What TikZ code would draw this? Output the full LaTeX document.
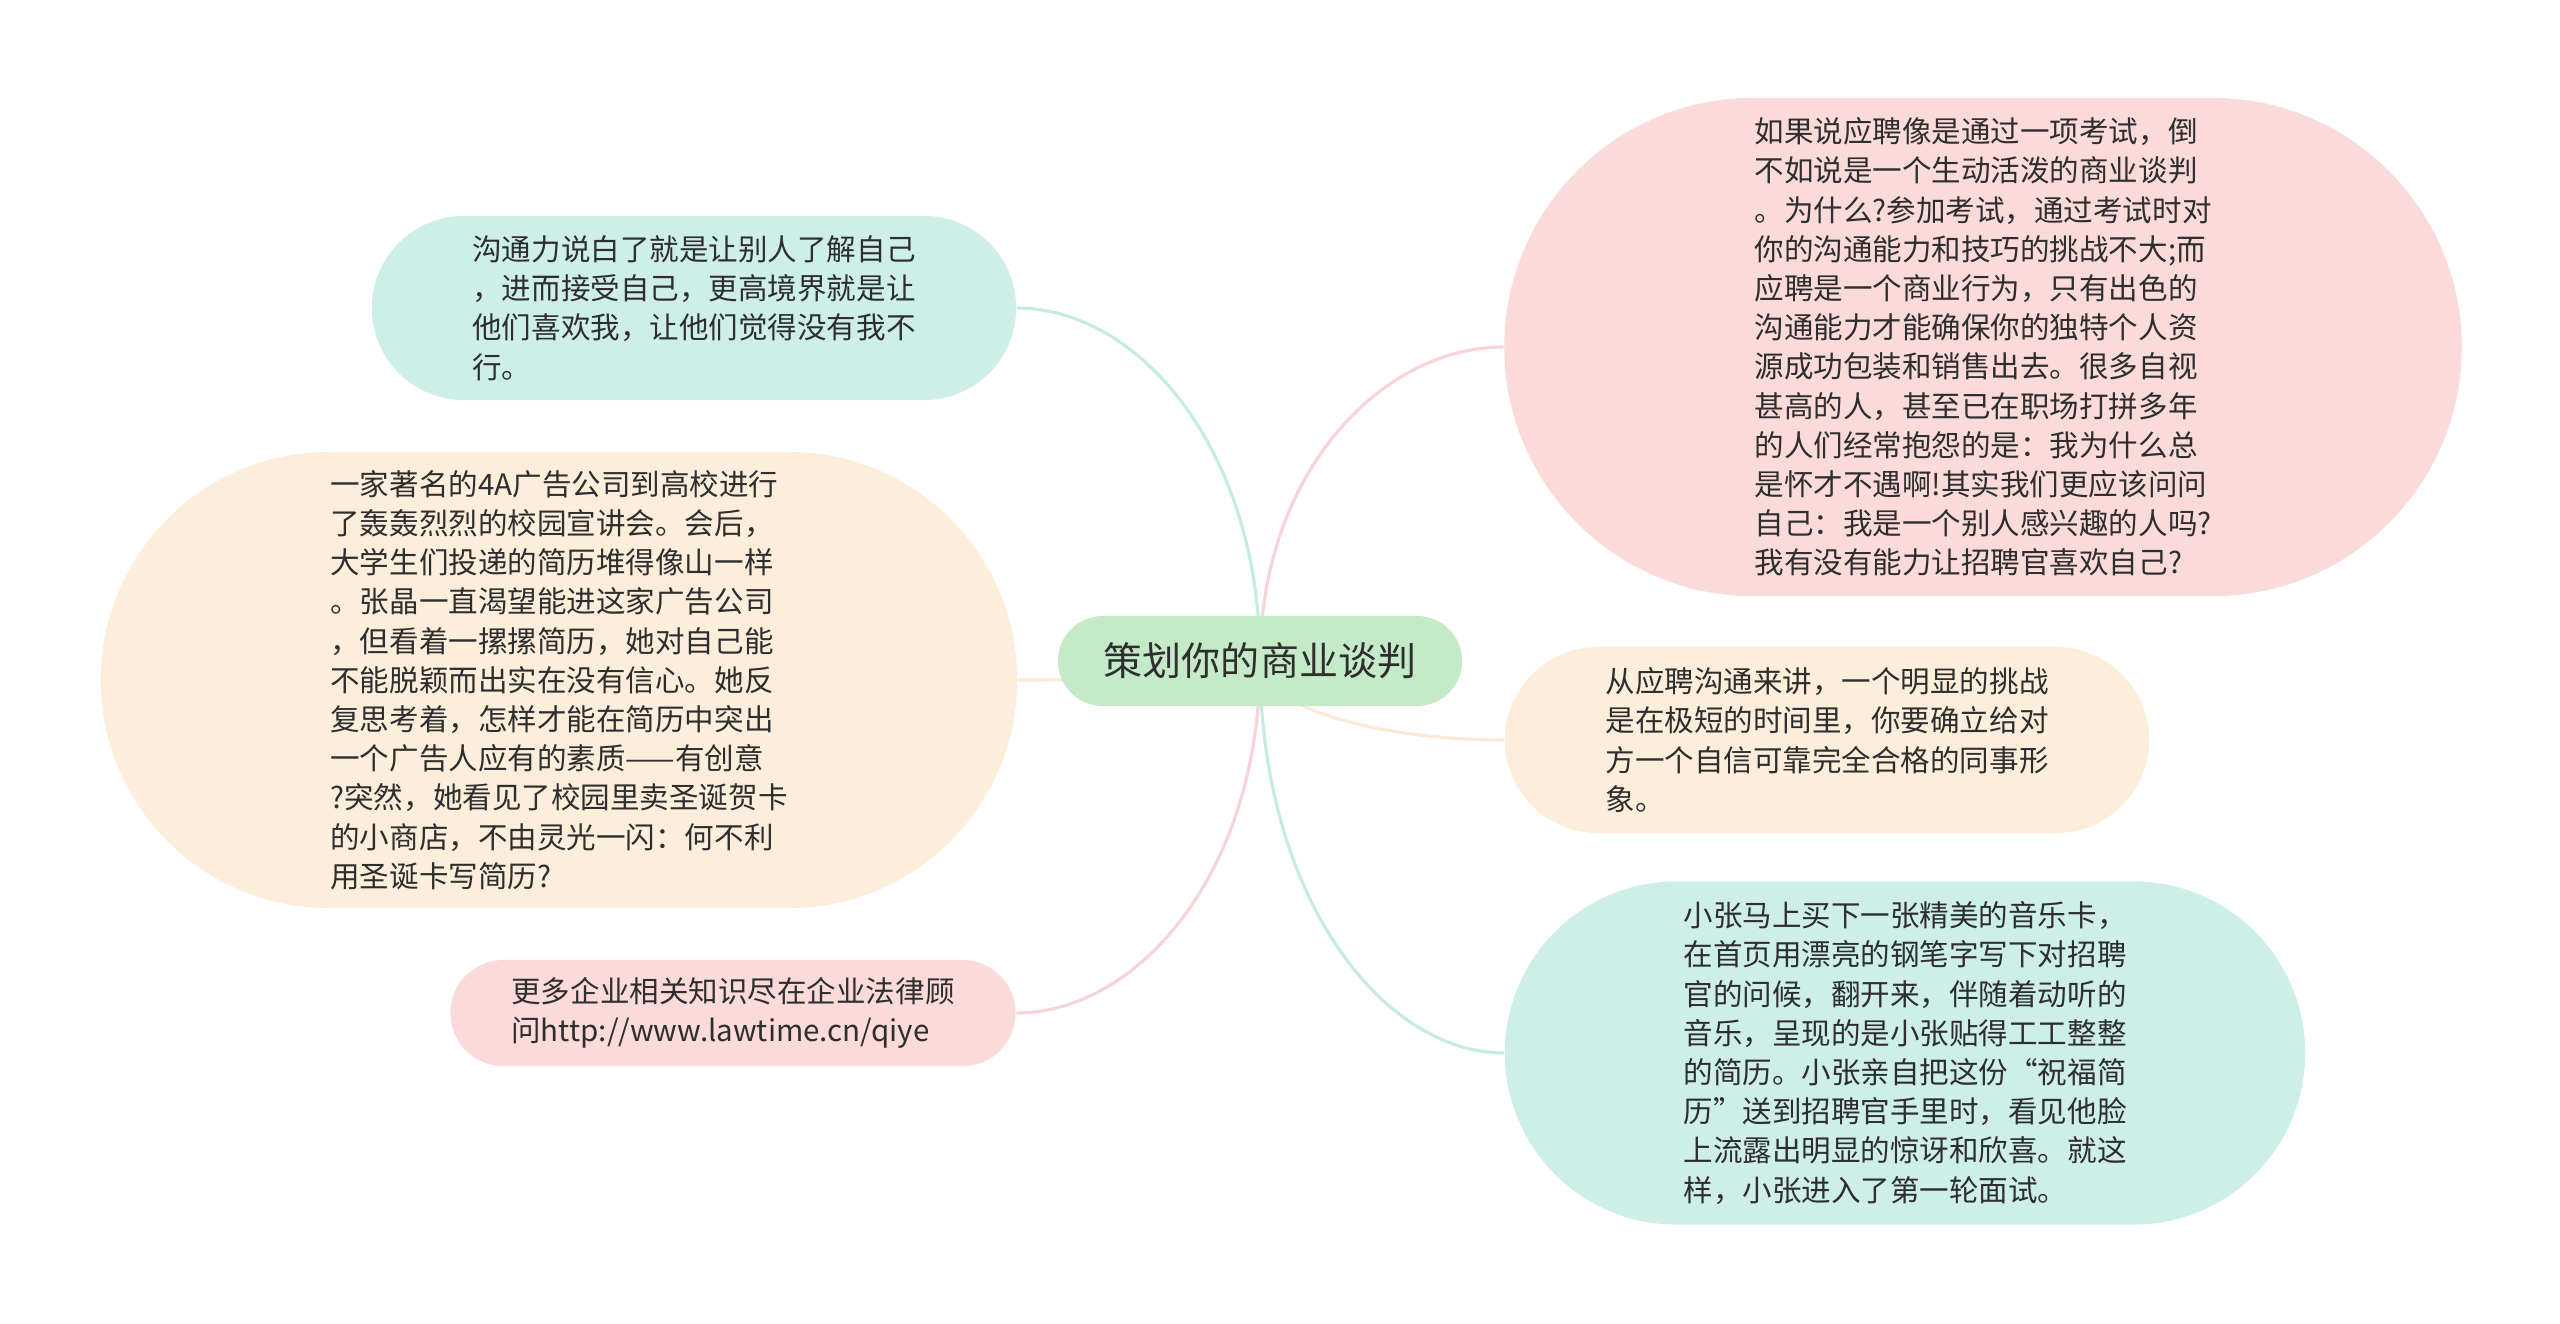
\documentclass[tikz,border=0pt]{standalone}
\usepackage{fontspec}
\setmainfont{Noto Sans CJK SC}
\usetikzlibrary{shapes.misc,calc,backgrounds}

\definecolor{rootgreen}{HTML}{C5EAC8}
\definecolor{tealfill}{HTML}{CDEFE8}
\definecolor{pinkfill}{HTML}{FBDADA}
\definecolor{peachfill}{HTML}{FDEEDC}
\definecolor{tealline}{HTML}{C6EBE4}
\definecolor{pinkline}{HTML}{F7D5D5}
\definecolor{peachline}{HTML}{FCE9D6}
\definecolor{inkgray}{HTML}{2E2E2E}

\begin{document}
\pagecolor{white}
\begin{tikzpicture}[x=0.01cm, y=-0.01cm,
    topic/.style={rounded rectangle, inner sep=0pt, align=left, text=inkgray,
      font=\fontsize{8.4}{11.15}\selectfont},
    link/.style={line width=0.9pt}]
  \useasboundingbox (0,0) rectangle (2560,1323);

  % Define nodes
  \node[rounded rectangle, inner sep=0pt, fill=rootgreen, minimum width=4.04cm, minimum height=0.9cm,
    text=inkgray, font=\fontsize{11.1}{14}\selectfont] (root) at (1260,661) {策划你的商业谈判};

  \node[topic, fill=tealfill, minimum width=6.44cm, minimum height=1.84cm] (talk) at (694,308) {沟通力说白了就是让别人了解自己\\
，进而接受自己，更高境界就是让\\
他们喜欢我，让他们觉得没有我不\\
行。};
  \node[topic, fill=peachfill, minimum width=9.16cm, minimum height=4.56cm] (story) at (559,680) {一家著名的4A广告公司到高校进行\\
了轰轰烈烈的校园宣讲会。会后，\\
大学生们投递的简历堆得像山一样\\
。张晶一直渴望能进这家广告公司\\
，但看着一摞摞简历，她对自己能\\
不能脱颖而出实在没有信心。她反\\
复思考着，怎样才能在简历中突出\\
一个广告人应有的素质——有创意\\
?突然，她看见了校园里卖圣诞贺卡\\
的小商店，不由灵光一闪：何不利\\
用圣诞卡写简历?};
  \node[topic, fill=pinkfill, minimum width=5.65cm, minimum height=1.06cm] (more) at (733,1013) {更多企业相关知识尽在企业法律顾\\
问http://www.lawtime.cn/qiye};

  \node[topic, fill=pinkfill, minimum width=9.57cm, minimum height=4.98cm] (exam) at (1983,347) {如果说应聘像是通过一项考试，倒\\
不如说是一个生动活泼的商业谈判\\
。为什么?参加考试，通过考试时对\\
你的沟通能力和技巧的挑战不大;而\\
应聘是一个商业行为，只有出色的\\
沟通能力才能确保你的独特个人资\\
源成功包装和销售出去。很多自视\\
甚高的人，甚至已在职场打拼多年\\
的人们经常抱怨的是：我为什么总\\
是怀才不遇啊!其实我们更应该问问\\
自己：我是一个别人感兴趣的人吗?\\
我有没有能力让招聘官喜欢自己?};
  \node[topic, fill=peachfill, minimum width=6.44cm, minimum height=1.86cm] (image) at (1827,740) {从应聘沟通来讲，一个明显的挑战\\
是在极短的时间里，你要确立给对\\
方一个自信可靠完全合格的同事形\\
象。};
  \node[topic, fill=tealfill, minimum width=8.0cm, minimum height=3.43cm] (card) at (1905,1053) {小张马上买下一张精美的音乐卡，\\
在首页用漂亮的钢笔字写下对招聘\\
官的问候，翻开来，伴随着动听的\\
音乐，呈现的是小张贴得工工整整\\
的简历。小张亲自把这份“祝福简\\
历”送到招聘官手里时，看见他脸\\
上流露出明显的惊讶和欣喜。就这\\
样，小张进入了第一轮面试。};

  % Draw edges
  \begin{scope}[on background layer]
    \draw[link, tealline] (root.center) .. controls ($(root.center)!0.6!(root.center |- talk.east)$) and ($(root.center |- talk.east)!0.5!(talk.east)$) .. (talk.east);
    \draw[link, peachline] (root.center) .. controls ($(root.center)!0.6!(root.center |- story.east)$) and ($(root.center |- story.east)!0.5!(story.east)$) .. (story.east);
    \draw[link, pinkline] (root.center) .. controls ($(root.center)!0.6!(root.center |- more.east)$) and ($(root.center |- more.east)!0.5!(more.east)$) .. (more.east);
    \draw[link, pinkline] (root.center) .. controls ($(root.center)!0.6!(root.center |- exam.west)$) and ($(root.center |- exam.west)!0.5!(exam.west)$) .. (exam.west);
    \draw[link, peachline] (root.center) .. controls ($(root.center)!0.6!(root.center |- image.west)$) and ($(root.center |- image.west)!0.5!(image.west)$) .. (image.west);
    \draw[link, tealline] (root.center) .. controls ($(root.center)!0.6!(root.center |- card.west)$) and ($(root.center |- card.west)!0.5!(card.west)$) .. (card.west);
  \end{scope}
\end{tikzpicture}
\end{document}
